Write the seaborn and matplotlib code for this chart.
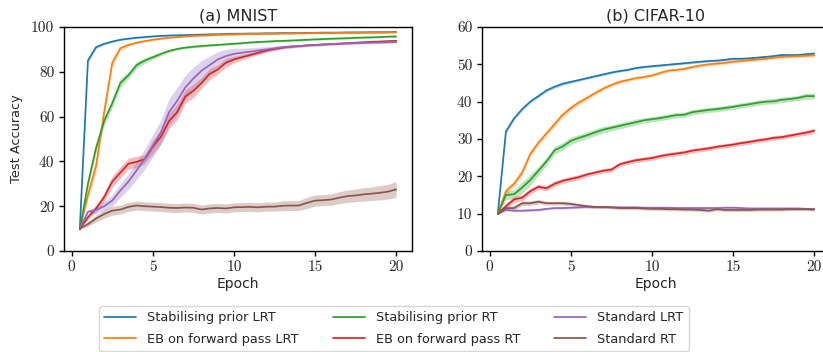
import numpy as np
import matplotlib
matplotlib.use("Agg")
import matplotlib.pyplot as plt
import seaborn as sns

epochs = [0.5 * (i + 1) for i in range(40)]
labels = ["Stabilising prior LRT", "EB on forward pass LRT", "Stabilising prior RT",
          "EB on forward pass RT", "Standard LRT", "Standard RT"]

# MNIST means
mnist_stab_lrt = [10, 85, 91, 92.5, 93.5, 94.3, 94.8, 95.2, 95.5, 95.8, 96.0, 96.2, 96.3, 96.4, 96.5, 96.6, 96.7, 96.8, 96.9, 97.0,
                  97.0, 97.1, 97.1, 97.2, 97.2, 97.3, 97.3, 97.3, 97.4, 97.4, 97.5, 97.5, 97.5, 97.6, 97.6, 97.6, 97.7, 97.7, 97.7, 97.8]
mnist_eb_lrt = [10, 25, 38, 62, 84, 90.5, 92, 93, 93.7, 94.3, 94.8, 95.2, 95.5, 95.8, 96.0, 96.2, 96.3, 96.5, 96.6, 96.7,
                96.8, 96.9, 96.9, 97.0, 97.0, 97.1, 97.1, 97.2, 97.2, 97.3, 97.3, 97.3, 97.4, 97.4, 97.4, 97.5, 97.5, 97.5, 97.6, 97.6]
mnist_stab_rt = [9.5, 30, 46, 58, 66, 75, 78.5, 83, 85, 86.5, 88, 89.3, 90.2, 90.8, 91.2, 91.5, 91.8, 92.0, 92.3, 92.5,
                 92.8, 93.1, 93.3, 93.5, 93.7, 93.8, 94.0, 94.1, 94.3, 94.5, 94.6, 94.8, 94.9, 95.0, 95.2, 95.3, 95.4, 95.5, 95.7, 95.8]
mnist_eb_rt = [10, 15, 19, 24, 31, 35, 39, 39.8, 41, 46.5, 51, 58, 62, 69, 71.5, 75, 79, 81, 84, 85.5,
               86.5, 87.5, 88.5, 89.5, 90.2, 90.8, 91.2, 91.5, 91.8, 92.0, 92.2, 92.4, 92.6, 92.8, 93.0, 93.2, 93.4, 93.5, 93.7, 93.8]
mnist_std_lrt = [10, 17.5, 18.3, 20, 22.5, 27, 31, 36, 41, 47, 53, 62, 67, 73, 77, 80.5, 83, 85.5, 87, 88,
                 88.5, 89, 89.5, 90, 90.5, 91, 91.3, 91.5, 91.8, 92, 92.2, 92.4, 92.5, 92.7, 92.8, 92.9, 93.0, 93.1, 93.2, 93.3]
mnist_std_rt = [10, 12, 14.5, 16.5, 18, 18.5, 19.7, 20.3, 20, 19.8, 19.6, 19.3, 19.2, 19.4, 19.3, 18.5, 19.0, 19.2, 19.0, 19.5,
                19.6, 19.7, 19.5, 19.8, 19.8, 20.2, 20.3, 20.3, 21.5, 22.5, 22.7, 23.0, 23.8, 24.5, 24.8, 25.3, 25.6, 26.0, 26.5, 27.5]

# MNIST band half-widths
mnist_stab_lrt_sd = [0.3, 1.0, 0.6, 0.5, 0.4, 0.3, 0.3, 0.3, 0.3, 0.3, 0.3, 0.3, 0.3, 0.3, 0.3, 0.3, 0.3, 0.3, 0.3, 0.3,
                     0.3, 0.3, 0.3, 0.3, 0.3, 0.3, 0.3, 0.3, 0.3, 0.3, 0.3, 0.3, 0.3, 0.3, 0.3, 0.3, 0.3, 0.3, 0.3, 0.3]
mnist_eb_lrt_sd = [0.3, 2.0, 3.0, 2.5, 2.0, 1.0, 0.7, 0.5, 0.5, 0.4, 0.4, 0.4, 0.4, 0.4, 0.4, 0.4, 0.4, 0.4, 0.4, 0.4,
                   0.4, 0.4, 0.4, 0.4, 0.4, 0.4, 0.4, 0.4, 0.4, 0.4, 0.4, 0.4, 0.4, 0.4, 0.4, 0.4, 0.4, 0.4, 0.4, 0.4]
mnist_stab_rt_sd = [0.3, 2.0, 2.0, 2.0, 2.0, 2.0, 1.5, 1.5, 1.2, 1.0, 0.8, 0.6, 0.5, 0.5, 0.5, 0.5, 0.4, 0.4, 0.4, 0.4,
                    0.4, 0.4, 0.4, 0.4, 0.4, 0.4, 0.4, 0.4, 0.4, 0.4, 0.4, 0.4, 0.4, 0.4, 0.4, 0.4, 0.4, 0.4, 0.4, 0.4]
mnist_eb_rt_sd = [0.3, 1.0, 1.5, 2.0, 2.5, 2.5, 2.5, 2.5, 2.0, 3.0, 3.0, 3.5, 3.5, 3.0, 3.0, 2.5, 2.5, 2.0, 2.0, 1.5,
                  1.2, 1.0, 0.8, 0.7, 0.6, 0.5, 0.5, 0.5, 0.5, 0.5, 0.5, 0.5, 0.5, 0.5, 0.5, 0.5, 0.5, 0.5, 0.5, 0.5]
mnist_std_lrt_sd = [0.3, 1.0, 1.5, 2.0, 2.5, 3.0, 3.5, 4.0, 4.5, 5.0, 5.5, 6.0, 6.0, 5.5, 5.0, 4.5, 4.0, 3.5, 3.0, 2.5,
                    2.0, 1.8, 1.5, 1.2, 1.0, 0.8, 0.7, 0.6, 0.5, 0.5, 0.5, 0.5, 0.5, 0.5, 0.5, 0.5, 0.5, 0.5, 0.5, 0.5]
mnist_std_rt_sd = [0.5, 1.0, 1.5, 1.8, 2.0, 2.0, 2.0, 2.0, 2.0, 2.0, 2.0, 2.0, 2.0, 2.0, 2.0, 2.0, 2.0, 2.0, 2.0, 2.0,
                   2.0, 2.0, 2.0, 2.0, 2.0, 2.2, 2.2, 2.2, 2.5, 2.5, 2.5, 2.5, 2.7, 2.8, 2.8, 3.0, 3.0, 3.2, 3.3, 3.5]

# CIFAR-10 means
cifar_stab_lrt = [10, 32, 35.5, 38, 40, 41.5, 43, 44, 44.8, 45.3, 45.8, 46.3, 46.8, 47.3, 47.8, 48.2, 48.5, 49.0, 49.3, 49.5,
                  49.7, 49.9, 50.1, 50.3, 50.5, 50.7, 50.9, 51.0, 51.2, 51.5, 51.5, 51.6, 51.8, 52.0, 52.2, 52.5, 52.5, 52.5, 52.7, 52.9]
cifar_eb_lrt = [10, 16, 18, 21, 26, 29, 31.5, 34, 36.5, 38.3, 39.8, 41, 42.3, 43.5, 44.5, 45.3, 45.8, 46.3, 46.6, 47,
                47.7, 48.3, 48.5, 48.8, 49.3, 49.7, 50.0, 50.2, 50.4, 50.7, 50.9, 51.1, 51.3, 51.5, 51.8, 52.0, 52.1, 52.2, 52.3, 52.4]
cifar_stab_rt = [10, 15, 15.2, 17, 19, 21.5, 24, 27, 28, 29.5, 30.3, 31, 31.8, 32.5, 33, 33.5, 34, 34.5, 35, 35.3,
                 35.6, 36, 36.4, 36.5, 37.2, 37.5, 37.8, 38, 38.3, 38.6, 39, 39.3, 39.7, 40, 40.1, 40.5, 40.7, 41, 41.5, 41.5]
cifar_eb_rt = [10, 12, 13.8, 14.3, 16, 17.2, 16.8, 18, 18.8, 19.3, 19.8, 20.5, 21, 21.5, 21.8, 23.2, 23.8, 24.3, 24.6, 24.9,
               25.4, 25.8, 26.1, 26.4, 26.9, 27.2, 27.5, 27.9, 28.2, 28.5, 28.9, 29.2, 29.6, 29.9, 30.3, 30.5, 30.9, 31.3, 31.7, 32.2]
cifar_std_lrt = [10, 11, 10.8, 10.8, 10.9, 11.0, 11.3, 11.5, 11.5, 11.6, 11.7, 11.8, 11.8, 11.8, 11.7, 11.7, 11.7, 11.7, 11.6, 11.6,
                 11.6, 11.6, 11.5, 11.5, 11.5, 11.5, 11.5, 11.5, 11.6, 11.6, 11.5, 11.4, 11.4, 11.4, 11.4, 11.4, 11.4, 11.4, 11.3, 11.3]
cifar_std_rt = [10, 11.5, 11.5, 12.8, 12.8, 13.2, 12.8, 12.8, 12.8, 12.6, 12.3, 12.0, 11.8, 11.8, 11.7, 11.5, 11.5, 11.5, 11.4, 11.3,
                11.3, 11.2, 11.2, 11.1, 11.1, 11.0, 10.8, 11.2, 11.0, 11.0, 11.0, 11.0, 11.1, 11.1, 11.1, 11.1, 11.2, 11.2, 11.2, 11.1]

# CIFAR-10 band half-widths
cifar_stab_lrt_sd = [0.2, 0.5, 0.4, 0.4, 0.4, 0.4, 0.4, 0.4, 0.4, 0.4, 0.3, 0.3, 0.3, 0.3, 0.3, 0.3, 0.3, 0.3, 0.3, 0.3,
                     0.3, 0.3, 0.3, 0.3, 0.3, 0.3, 0.3, 0.3, 0.3, 0.3, 0.3, 0.3, 0.3, 0.3, 0.3, 0.3, 0.3, 0.3, 0.3, 0.3]
cifar_eb_lrt_sd = [0.2, 0.8, 0.8, 0.8, 0.8, 0.7, 0.7, 0.7, 0.7, 0.7, 0.6, 0.6, 0.5, 0.5, 0.5, 0.5, 0.4, 0.4, 0.4, 0.4,
                   0.4, 0.4, 0.4, 0.4, 0.4, 0.4, 0.4, 0.4, 0.4, 0.4, 0.4, 0.4, 0.4, 0.4, 0.4, 0.4, 0.4, 0.4, 0.4, 0.4]
cifar_stab_rt_sd = [0.2, 1.2, 1.2, 1.5, 1.5, 1.2, 1.0, 1.0, 1.0, 1.0, 0.9, 0.9, 0.9, 0.9, 0.8, 0.8, 0.8, 0.8, 0.7, 0.7,
                    0.7, 0.7, 0.7, 0.7, 0.7, 0.7, 0.7, 0.7, 0.7, 0.7, 0.7, 0.7, 0.7, 0.7, 0.7, 0.7, 0.7, 0.7, 0.8, 0.8]
cifar_eb_rt_sd = [0.2, 0.8, 0.8, 0.8, 0.8, 0.7, 0.7, 0.7, 0.7, 0.7, 0.7, 0.6, 0.6, 0.6, 0.6, 0.6, 0.6, 0.6, 0.6, 0.6,
                  0.6, 0.6, 0.6, 0.6, 0.6, 0.6, 0.6, 0.6, 0.6, 0.6, 0.6, 0.6, 0.6, 0.6, 0.6, 0.6, 0.6, 0.6, 0.7, 0.7]
cifar_std_lrt_sd = [0.2, 0.3, 0.3, 0.3, 0.3, 0.3, 0.3, 0.3, 0.3, 0.3, 0.3, 0.3, 0.3, 0.3, 0.3, 0.3, 0.3, 0.3, 0.3, 0.3,
                    0.3, 0.3, 0.3, 0.3, 0.3, 0.3, 0.3, 0.3, 0.3, 0.3, 0.3, 0.3, 0.3, 0.3, 0.3, 0.3, 0.3, 0.3, 0.3, 0.3]
cifar_std_rt_sd = [0.2, 0.5, 0.6, 0.6, 0.6, 0.6, 0.5, 0.5, 0.5, 0.5, 0.4, 0.4, 0.4, 0.4, 0.4, 0.4, 0.4, 0.4, 0.4, 0.4,
                   0.4, 0.4, 0.4, 0.4, 0.4, 0.4, 0.4, 0.4, 0.4, 0.4, 0.4, 0.4, 0.4, 0.4, 0.4, 0.4, 0.4, 0.4, 0.4, 0.4]

mnist_means = [mnist_stab_lrt, mnist_eb_lrt, mnist_stab_rt, mnist_eb_rt, mnist_std_lrt, mnist_std_rt]
mnist_sds = [mnist_stab_lrt_sd, mnist_eb_lrt_sd, mnist_stab_rt_sd, mnist_eb_rt_sd, mnist_std_lrt_sd, mnist_std_rt_sd]
cifar_means = [cifar_stab_lrt, cifar_eb_lrt, cifar_stab_rt, cifar_eb_rt, cifar_std_lrt, cifar_std_rt]
cifar_sds = [cifar_stab_lrt_sd, cifar_eb_lrt_sd, cifar_stab_rt_sd, cifar_eb_rt_sd, cifar_std_lrt_sd, cifar_std_rt_sd]

sns.set_theme(style="ticks")
plt.rcParams['font.family'] = ['DejaVu Sans']
colors = sns.color_palette("tab10", 6)

fig = plt.figure(figsize=(8.23, 3.52), dpi=100)
H = 352.0
W = 823.0
ax1 = fig.add_axes([64 / W, 1 - 251 / H, (412 - 64) / W, (251 - 27) / H])
ax2 = fig.add_axes([482 / W, 1 - 251 / H, (830 - 482) / W, (251 - 27) / H])

def draw(ax, means, sds, ylim, yticks, title):
    x = np.array(epochs)
    for lab, m, s, c in zip(labels, means, sds, colors):
        m = np.array(m, dtype=float)
        s = np.array(s, dtype=float)
        sns.lineplot(x=x, y=m, ax=ax, color=c, label=lab, linewidth=1.25)
        ax.fill_between(x, m - s, m + s, color=c, alpha=0.3, linewidth=0)
    ax.set_ylim(*ylim)
    ax.set_yticks(yticks)
    ax.set_yticklabels([str(t) for t in yticks], fontfamily='cmr10', fontsize=11)
    ax.set_xticks([0, 5, 10, 15, 20])
    ax.set_xticklabels(["0", "5", "10", "15", "20"], fontfamily='cmr10', fontsize=11)
    ax.set_xlabel("Epoch", fontsize=10, labelpad=2)
    ax.set_title(title, fontsize=11.5, pad=4.5)
    for sp in ax.spines.values():
        sp.set_color('black')
        sp.set_linewidth(1.0)
    ax.tick_params(axis='both', length=3.5, width=1.0, color='black', pad=3.5)
    leg = ax.get_legend()
    if leg is not None:
        leg.remove()

draw(ax1, mnist_means, mnist_sds, (0, 100), [0, 20, 40, 60, 80, 100], "(a) MNIST")
draw(ax2, cifar_means, cifar_sds, (0, 60), [0, 10, 20, 30, 40, 50, 60], "(b) CIFAR-10")
ax1.set_ylabel("Test Accuracy", fontsize=9.3, labelpad=6)

handles, labs = ax1.get_legend_handles_labels()
fig.legend(handles, labs, ncol=3, loc='upper left', bbox_to_anchor=(99 / W, 1 - 306 / H),
           fontsize=9.3, frameon=True, columnspacing=2.6, handlelength=2.5, handletextpad=0.85,
           labelspacing=0.68, borderaxespad=0)

fig.savefig("out.png", dpi=100)
